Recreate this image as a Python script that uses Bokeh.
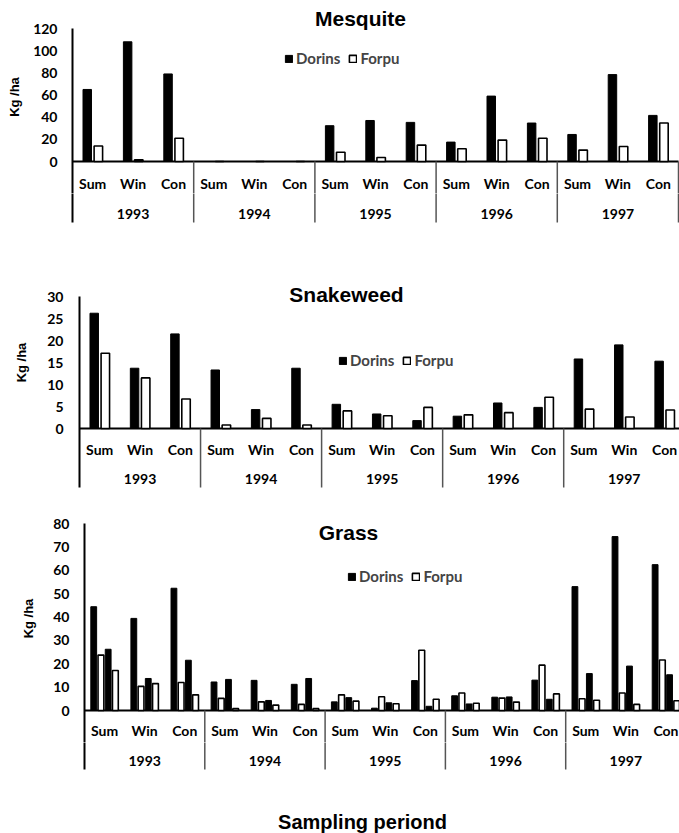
from bokeh.plotting import figure
from bokeh.layouts import column
from bokeh.models import Range1d, FixedTicker, Label, Legend, LegendItem, ColumnDataSource
from bokeh.embed import file_html
from bokeh.resources import INLINE
from bokeh.core.properties import value

# ---------------- data ----------------
years = ["1993", "1994", "1995", "1996", "1997"]
seasons = ["Sum", "Win", "Con"]

mesquite_dorins = [65, 108, 79, 0, 0, 0, 32.3, 37, 35.3, 17.5, 59, 34.7, 24.4, 78.4, 41.6]
mesquite_forpu = [14, 1.5, 21, 0, 0, 0, 8.4, 3.6, 14.8, 11.5, 19.3, 21, 10.3, 13.6, 34.7]

snake_dorins = [26.2, 13.7, 21.5, 13.3, 4.3, 13.7, 5.5, 3.3, 1.8, 2.8, 5.8, 4.8, 15.8, 19.0, 15.3]
snake_forpu = [17.1, 11.5, 6.7, 0.8, 2.3, 0.8, 4.0, 2.9, 4.8, 3.1, 3.6, 7.1, 4.4, 2.6, 4.2]

grass_dorins = [44.4, 39.4, 52.3, 12.2, 12.9, 11.2, 3.7, 1.0, 12.8, 6.3, 5.7, 13.0, 53.0, 74.4, 62.4]
grass_forpu = [23.7, 10.3, 12.0, 5.2, 3.7, 2.6, 6.7, 5.9, 25.8, 7.5, 5.3, 19.4, 5.0, 7.5, 21.6]

W = 679
L = 70  # common frame left for every band
TICK_FONT = "Lato"
TITLE_FONT = "Liberation Sans"

cats = [(y, s) for y in years for s in seasons]
centers = [i + 0.5 for i in range(len(cats))]
season_labels = [s for (_, s) in cats]
year_centers = [3 * i + 1.5 for i in range(len(years))]
separators = [3 * (i + 1) for i in range(len(years))]


def make_band(cfg, c0, c1, x_range, with_axis, show_seasons, show_years):
    """A figure covering canvas rows c0..c1 with the panel's own y scale."""
    s = (cfg["y0"] - cfg["y_top"]) / cfg["ymax"]
    to_data = lambda c: (cfg["y0"] - c) / s
    p = figure(width=W, height=c1 - c0, output_backend="svg", toolbar_location=None,
               x_axis_location=None, y_axis_location="left" if with_axis else None,
               x_range=x_range, y_range=Range1d(to_data(c1), to_data(c0)),
               min_border_left=L, min_border_right=0, min_border_top=0, min_border_bottom=0)
    p.outline_line_color = None
    p.grid.visible = False
    p.background_fill_color = "white"
    p.border_fill_color = "white"

    ymax = cfg["ymax"]
    y_sep = to_data(cfg["sep_bottom"])
    # baseline, y-axis line (continues down past the labels) and year separators
    p.segment(x0=[0], x1=[15], y0=[0], y1=[0], line_color="black", line_width=2)
    p.segment(x0=[0], x1=[0], y0=[y_sep], y1=[ymax], line_color="black", line_width=2)
    p.segment(x0=separators, x1=separators, y0=[0] * len(separators), y1=[y_sep] * len(separators),
              line_color="#555555", line_width=1.5)
    if show_seasons:
        p.text(x=centers, y=[0] * len(centers), text=season_labels, y_offset=cfg["season_off"],
               text_align="center", text_baseline="middle", text_font=value(TICK_FONT),
               text_font_style="bold", text_font_size="14px", text_color="black")
    if show_years:
        p.text(x=year_centers, y=[0] * len(year_centers), text=years, y_offset=cfg["year_off"],
               text_align="center", text_baseline="middle", text_font=value(TICK_FONT),
               text_font_style="bold", text_font_size="14px", text_color="black")

    if with_axis:
        ax = p.yaxis[0]
        ax.ticker = FixedTicker(ticks=list(range(0, ymax + 1, cfg["ystep"])))
        ax.bounds = (0, ymax)
        ax.axis_line_color = None
        ax.major_tick_line_color = None
        ax.minor_tick_line_color = None
        ax.major_tick_out = 0
        ax.major_tick_in = 0
        ax.major_label_standoff = cfg["tick_standoff"]
        ax.major_label_text_font = TICK_FONT
        ax.major_label_text_font_style = "bold"
        ax.major_label_text_font_size = "14px"
        ax.major_label_text_color = "black"
        ax.axis_label = "Kg /ha"
        ax.axis_label_standoff = cfg["label_standoff"]
        ax.axis_label_text_font = TITLE_FONT
        ax.axis_label_text_font_style = "bold"
        ax.axis_label_text_font_size = "13px"
        ax.axis_label_text_color = "black"

        renderers = []
        for vals, off, fill in cfg["series"]:
            src = ColumnDataSource(dict(x=[c + off for c in centers], top=vals))
            r = p.vbar(x="x", top="top", bottom=0, width=cfg["bar_w"], source=src,
                       fill_color=fill, line_color="black",
                       line_width=1.0 if fill == "black" else 1.6)
            renderers.append(r)

        tx, ty = cfg["title_pos"]
        p.add_layout(Label(x=tx - L, x_units="screen", y=c1 - ty, y_units="screen", text=cfg["title"],
                           text_align="center", text_baseline="middle", text_color="black",
                           text_font=TITLE_FONT, text_font_style="bold", text_font_size="21px"))
        lx, ly = cfg["legend_pos"]
        legend = Legend(items=[LegendItem(label="Dorins", renderers=[renderers[0]]),
                               LegendItem(label="Forpu", renderers=[renderers[1]])],
                        orientation="horizontal", location=(lx - L, c1 - ly - 8),
                        border_line_color=None, background_fill_alpha=0,
                        label_text_font=TICK_FONT, label_text_font_style="bold",
                        label_text_font_size="15px", glyph_width=9, glyph_height=9,
                        label_standoff=3, spacing=8, padding=0, margin=0, label_height=16)
        p.add_layout(legend)
    return p


def xr(cfg):
    x_start = -(cfg["axis_px"] - L) / cfg["cat_px"]
    return Range1d(x_start, x_start + (W - L) / cfg["cat_px"])


# layout settings in page pixels (canvas rows)
mesq = dict(title="Mesquite", ymax=120, ystep=20, y_top=28, y0=161, sep_bottom=222,
            axis_px=72, cat_px=40.4, title_pos=(360, 18), legend_pos=(284, 59),
            season_off=22, year_off=52, bar_w=0.21, tick_standoff=13, label_standoff=8,
            series=[(mesquite_dorins, -0.135, "black"), (mesquite_forpu, 0.14, "white")])
snake = dict(title="Snakeweed", ymax=30, ystep=5, y_top=296, y0=428, sep_bottom=487,
             axis_px=79, cat_px=40.35, title_pos=(346, 294), legend_pos=(338, 361),
             season_off=21, year_off=50, bar_w=0.21, tick_standoff=7, label_standoff=15,
             series=[(snake_dorins, -0.135, "black"), (snake_forpu, 0.14, "white")])
grass = dict(title="Grass", ymax=80, ystep=10, y_top=523, y0=710, sep_bottom=769,
             axis_px=84, cat_px=40.1, title_pos=(348, 532), legend_pos=(347, 577),
             season_off=20, year_off=50, bar_w=0.145, tick_standoff=1, label_standoff=14,
             series=[(grass_dorins, -0.27, "black"), (grass_forpu, -0.09, "white"),
                     (snake_dorins, 0.09, "black"), (snake_forpu, 0.27, "white")])

# the band holding each axis is centred (near enough) on the value area, so "Kg /ha" sits mid-axis
xm, xs, xg = xr(mesq), xr(snake), xr(grass)
m_a = make_band(mesq, 0, 193, xm, True, True, False)
m_b = make_band(mesq, 193, 230, xm, False, False, True)
s_a = make_band(snake, 230, 494, xs, True, True, True)
g_a = make_band(grass, 494, 742, xg, True, True, False)
g_b = make_band(grass, 742, 833, xg, False, False, True)

g_b.add_layout(Label(x=362 - L, x_units="screen", y=833 - 821, y_units="screen", text="Sampling periond",
                     text_align="center", text_baseline="middle", text_color="black",
                     text_font=TITLE_FONT, text_font_style="bold", text_font_size="20px"))

layout = column(m_a, m_b, s_a, g_a, g_b, spacing=0)
open("out.html", "w").write(file_html(layout, INLINE))
